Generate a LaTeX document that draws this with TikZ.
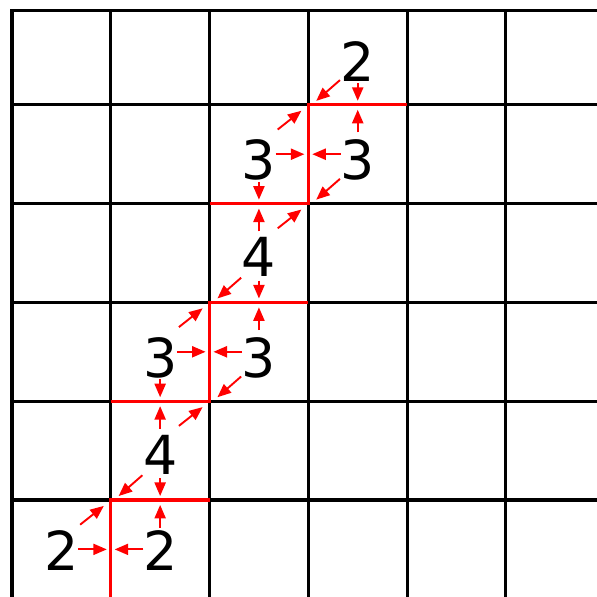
\documentclass[tikz,border=0pt]{standalone}
\usepackage{fontspec}
\setmainfont{DejaVu Sans}
\usetikzlibrary{arrows.meta}
\tikzset{every path/.style={line width=0.9pt}}
\tikzset{
  clue/.style={font=\fontsize{15.5}{18}\selectfont, inner sep=0pt},
  fence/.style={red, line width=0.9pt},
  hint/.style={red, line width=0.55pt, -{Triangle[length=3.9pt,width=3.2pt]}}
}

\begin{document}
\begin{tikzpicture}
    \useasboundingbox (-0.121,-0.982) rectangle (5.921,5.061);

    % grid
    \draw (0,-0.982) -- (0,4.952) -- (5.921,4.952);
    \foreach \x in {1,...,5} \draw (\x,-0.982) -- (\x,4.952);
    \foreach \y in {0,...,4} \draw (0,\y) -- (5.921,\y);

    % fence
    \draw[fence] (1,-0.982) -- (1,0) -- (2,0);
    \draw[fence] (1,1) -- (2,1) -- (2,2) -- (3,2);
    \draw[fence] (2,3) -- (3,3) -- (3,4) -- (4,4);

    % clues
    \node[clue] (c34) at (3.5,4.44) {2};
    \node[clue] (c33) at (3.5,3.44) {3};
    \node[clue] (c23) at (2.5,3.44) {3};
    \node[clue] (c22) at (2.5,2.46) {4};
    \node[clue] (c21) at (2.5,1.44) {3};
    \node[clue] (c11) at (1.5,1.44) {3};
    \node[clue] (c10) at (1.5,0.46) {4};
    \node[clue] (c1m) at (1.5,-0.51) {2};
    \node[clue] (c0m) at (0.5,-0.51) {2};

    % hints
    \draw[hint] (3.32,4.25) -- (3.08,4.04);
    \draw[hint] (3.5,4.22) -- (3.5,4.04);

    \draw[hint] (3.5,3.72) -- (3.5,3.95);
    \draw[hint] (3.33,3.5) -- (3.04,3.5);
    \draw[hint] (3.32,3.25) -- (3.08,3.04);

    \draw[hint] (2.69,3.75) -- (2.93,3.94);
    \draw[hint] (2.67,3.5) -- (2.96,3.5);
    \draw[hint] (2.5,3.22) -- (2.5,3.04);

    \draw[hint] (2.5,2.72) -- (2.5,2.95);
    \draw[hint] (2.69,2.75) -- (2.93,2.94);
    \draw[hint] (2.32,2.25) -- (2.08,2.04);
    \draw[hint] (2.5,2.22) -- (2.5,2.04);

    \draw[hint] (2.5,1.72) -- (2.5,1.95);
    \draw[hint] (2.33,1.5) -- (2.04,1.5);
    \draw[hint] (2.32,1.25) -- (2.08,1.04);

    \draw[hint] (1.69,1.75) -- (1.93,1.94);
    \draw[hint] (1.67,1.5) -- (1.96,1.5);
    \draw[hint] (1.5,1.22) -- (1.5,1.04);

    \draw[hint] (1.5,0.72) -- (1.5,0.95);
    \draw[hint] (1.69,0.75) -- (1.93,0.94);
    \draw[hint] (1.32,0.25) -- (1.08,0.04);
    \draw[hint] (1.5,0.22) -- (1.5,0.04);

    \draw[hint] (1.5,-0.28) -- (1.5,-0.05);
    \draw[hint] (1.33,-0.5) -- (1.04,-0.5);

    \draw[hint] (0.69,-0.25) -- (0.93,-0.06);
    \draw[hint] (0.67,-0.5) -- (0.96,-0.5);
\end{tikzpicture}
\end{document}
